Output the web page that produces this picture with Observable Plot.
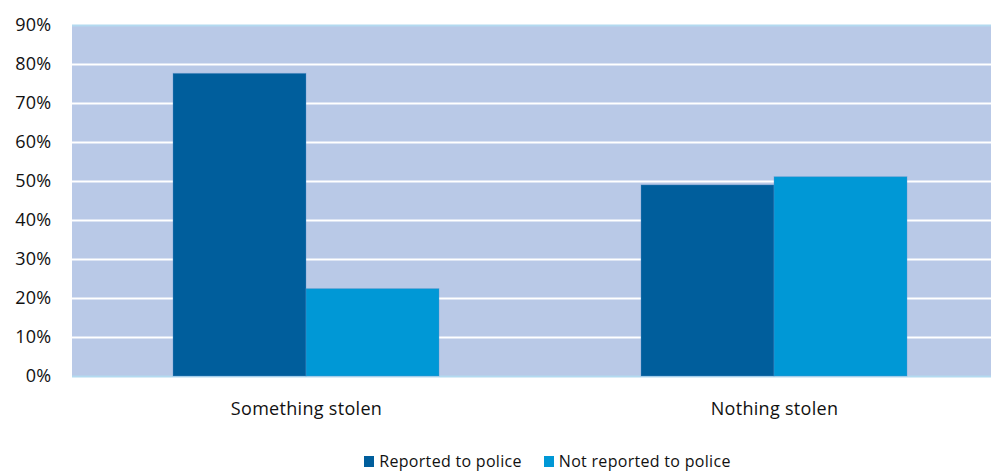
<!DOCTYPE html>
<html>
<head>
<meta charset="utf-8">
<script src="https://cdn.jsdelivr.net/npm/d3@7"></script>
<script src="https://cdn.jsdelivr.net/npm/@observablehq/plot@0.6"></script>
<style>
  html, body { margin: 0; padding: 0; background: white; }
  #chart { width: 991px; overflow: hidden; }
  .legend { display: flex; justify-content: center; gap: 22px; font-family: "Open Sans", Lato, sans-serif; font-size: 16px; color: #111; margin-top: 20px; padding-left: 104px; letter-spacing: 0.3px; }
  .legend span.item { display: flex; align-items: center; gap: 5px; }
  .legend span.sw { display: inline-block; width: 10px; height: 11px; }
</style>
</head>
<body>
<div id="chart"></div>
<script>
const categories = ["Something stolen", "Nothing stolen"];
const series = ["Reported to police", "Not reported to police"];
const reported = [77.6, 49.0];
const notReported = [22.4, 51.1];
const yTicks = [0, 10, 20, 30, 40, 50, 60, 70, 80, 90];
const colors = ["#005E9C", "#0098D6"];

const data = [];
categories.forEach((c, i) => {
  data.push({category: c, series: series[0], value: reported[i]});
  data.push({category: c, series: series[1], value: notReported[i]});
});

const plot = Plot.plot({
  width: 991,
  height: 430,
  marginLeft: 71,
  marginRight: 0,
  marginTop: 25,
  marginBottom: 54,
  style: {fontFamily: "'Open Sans', Lato, sans-serif", fontSize: "18px", color: "#111", overflow: "hidden", letterSpacing: "0.3px"},
  fx: {domain: categories, range: [71, 1008], padding: 0, label: null},
  x: {domain: series, paddingInner: 0, paddingOuter: 0.75, axis: null},
  y: {domain: [0, 90], label: null},
  color: {domain: series, range: colors},
  marks: [
    Plot.frame({fill: "#B9C9E7", insetLeft: -1, insetRight: -1, shapeRendering: "crispEdges"}),
    Plot.gridY(yTicks.slice(1, -1), {stroke: "white", strokeOpacity: 1, strokeWidth: 2}),
    Plot.ruleY([0, 90], {stroke: "#B3DAF0", strokeWidth: 2}),
    Plot.barY(data, {fx: "category", x: "series", y: "value", fill: "series", stroke: "#5A8FC8", strokeOpacity: 0.35, strokeWidth: 1, inset: 0}),
    Plot.axisY({ticks: yTicks, tickFormat: d => d + "%", tickSize: 0, tickPadding: 21, label: null}),
    Plot.axisFx({anchor: "bottom", tickSize: 0, tickPadding: 26, label: null})
  ]
});
document.getElementById("chart").appendChild(plot);

const legend = document.createElement("div");
legend.className = "legend";
series.forEach((s, i) => {
  const item = document.createElement("span");
  item.className = "item";
  const sw = document.createElement("span");
  sw.className = "sw";
  sw.style.background = colors[i];
  item.appendChild(sw);
  item.appendChild(document.createTextNode(s));
  legend.appendChild(item);
});
document.getElementById("chart").appendChild(legend);
</script>
</body>
</html>
